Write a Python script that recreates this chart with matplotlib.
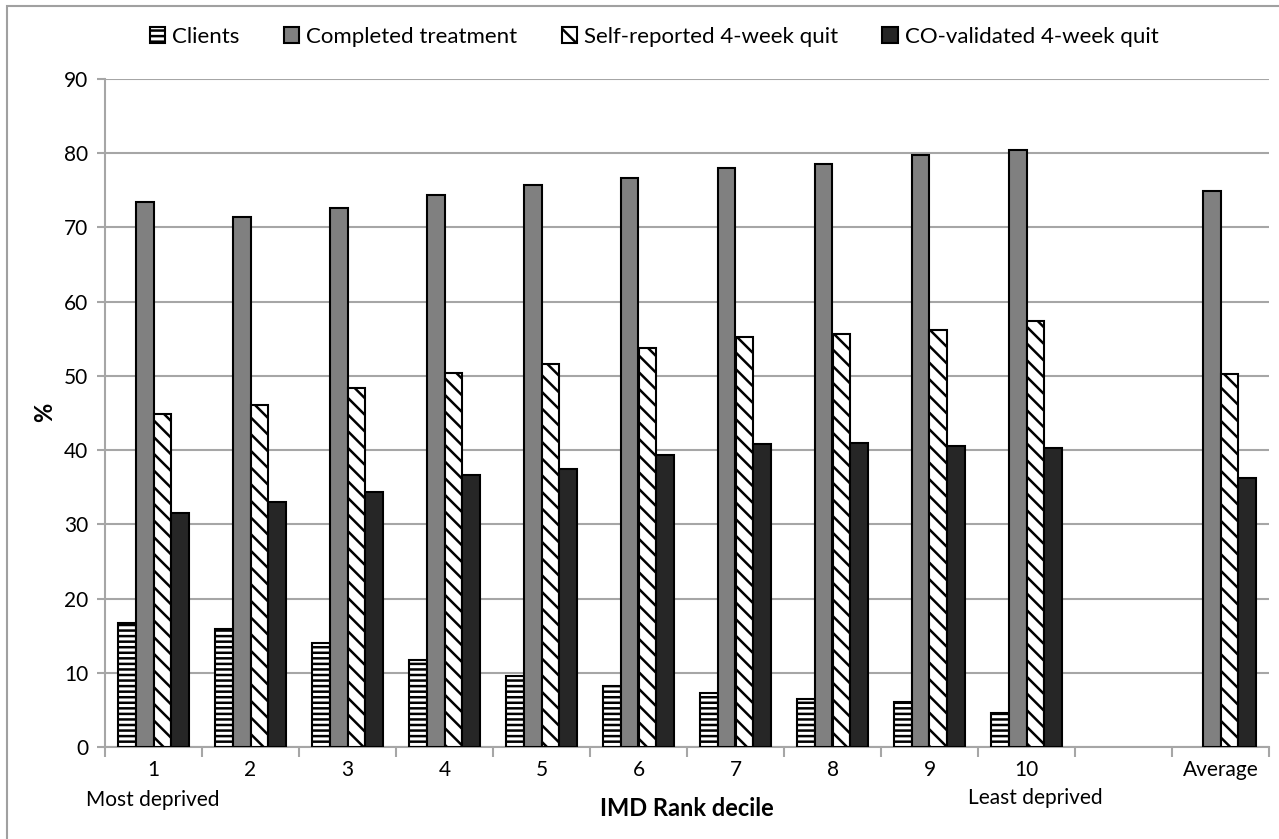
import matplotlib
matplotlib.use("Agg")
import matplotlib.pyplot as plt
import numpy as np
from matplotlib.patches import Rectangle

plt.rcParams['font.family'] = ['Lato', 'DejaVu Sans']
plt.rcParams['hatch.linewidth'] = 1.8

categories = ["1", "2", "3", "4", "5", "6", "7", "8", "9", "10", "", "Average"]
series_names = ["Clients", "Completed treatment", "Self-reported 4-week quit", "CO-validated 4-week quit"]
clients = [16.7, 15.9, 14.0, 11.7, 9.6, 8.2, 7.3, 6.5, 6.1, 4.6, np.nan, np.nan]
completed = [73.4, 71.4, 72.6, 74.4, 75.7, 76.7, 78.0, 78.6, 79.7, 80.4, np.nan, 74.9]
self_reported = [44.8, 46.1, 48.4, 50.4, 51.6, 53.8, 55.3, 55.7, 56.2, 57.4, np.nan, 50.2]
co_validated = [31.5, 33.0, 34.4, 36.6, 37.4, 39.4, 40.8, 40.9, 40.6, 40.3, np.nan, 36.2]
yticks = [0, 10, 20, 30, 40, 50, 60, 70, 80, 90]

W, H = 1279, 839
fig = plt.figure(figsize=(W / 100, H / 100), dpi=100)
ax = fig.add_axes([105 / W, 1 - 747 / H, (1269 - 105) / W, (747 - 79) / H])

# outer frame
fig.patches.append(Rectangle((7 / W, -0.1), 1.2, 1 - 6 / H + 0.1, transform=fig.transFigure,
                             fill=False, edgecolor='#a0a0a0', linewidth=1.5))

x = np.arange(len(categories))
bw = 0.185
styles = [
    dict(facecolor='white', hatch='---'),
    dict(facecolor='#808080', hatch=None),
    dict(facecolor='white', hatch='\\\\'),
    dict(facecolor='#262626', hatch=None),
]
data = [clients, completed, self_reported, co_validated]
for i, (vals, st, name) in enumerate(zip(data, styles, series_names)):
    ax.bar(x + (i - 1.5) * bw, vals, width=bw, edgecolor='black', linewidth=1.5,
           label=name, zorder=3, **st)

ax.set_xlim(-0.5, len(categories) - 0.5)
ax.set_ylim(0, 90)
ax.set_yticks(yticks)
ax.yaxis.grid(True, color='#a6a6a6', linewidth=1.5, zorder=0)
ax.set_axisbelow(True)
for s in ['top', 'right']:
    ax.spines[s].set_visible(False)
for s in ['left', 'bottom']:
    ax.spines[s].set_color('#a6a6a6')
    ax.spines[s].set_linewidth(1.5)

ax.set_xticks(np.arange(-0.5, len(categories), 1.0))
ax.set_xticklabels([])
ax.set_xticks(x, minor=True)
ax.set_xticklabels(categories, minor=True, fontsize=15)
ax.tick_params(axis='x', which='major', length=7, width=1.5, color='#a6a6a6', direction='out')
ax.tick_params(axis='x', which='minor', length=0, pad=9)
ax.tick_params(axis='y', length=6, width=1.5, color='#a6a6a6', labelsize=15, pad=6)

fig.text(45 / W, 1 - 412 / H, '%', rotation=90, ha='center', va='center',
         fontsize=17, fontweight='bold')
fig.text(687 / W, 1 - 808 / H, 'IMD Rank decile', ha='center', va='center',
         fontsize=17, fontweight='bold')
fig.text(153 / W, 1 - 800 / H, 'Most deprived', ha='center', va='center', fontsize=15)
fig.text(1035 / W, 1 - 798 / H, 'Least deprived', ha='center', va='center', fontsize=15)

leg = ax.legend(loc='center', bbox_to_anchor=((654 - 105) / 1164, 1 + 42 / 668), ncol=4,
                frameon=False, fontsize=16, handlelength=0.7, handleheight=0.7,
                handletextpad=0.3, columnspacing=2.0)

fig.savefig('out.png', dpi=100)
